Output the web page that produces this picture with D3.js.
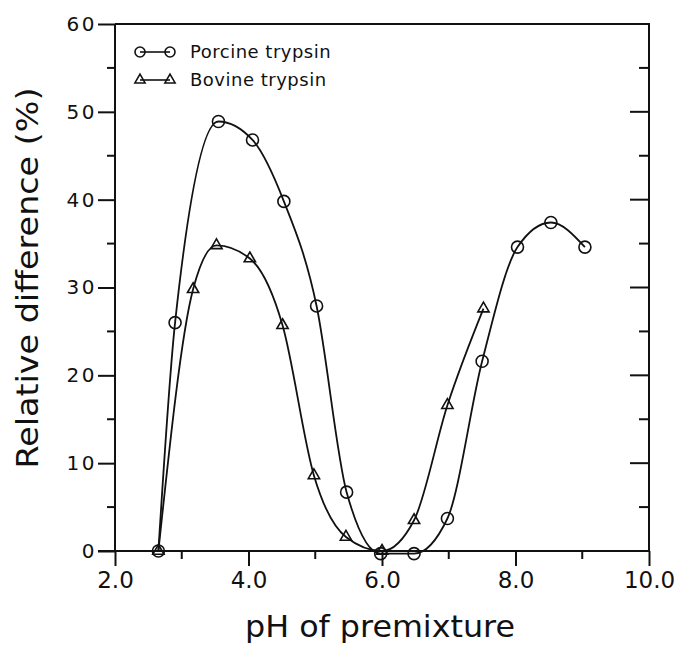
<!DOCTYPE html>
<html>
<head>
<meta charset="utf-8">
<script src="https://cdnjs.cloudflare.com/ajax/libs/d3/7.8.5/d3.min.js"></script>
<style>
  body { margin: 0; background: #fff; }
  svg { display: block; }
  text { font-family: "DejaVu Sans", sans-serif; fill: #111; }
</style>
</head>
<body>
<script>
// Porcine trypsin (circles)
var porcinePH  = [2.65, 2.9, 3.55, 4.06, 4.53, 5.02, 5.47, 5.98, 6.48, 6.98, 7.5, 8.03, 8.53, 9.04];
var porcineVal = [0.0, 26.0, 48.9, 46.8, 39.8, 27.9, 6.7, -0.3, -0.3, 3.7, 21.6, 34.6, 37.4, 34.6];

// Bovine trypsin (triangles)
var bovinePH  = [2.65, 3.17, 3.52, 4.02, 4.51, 4.98, 5.46, 6.0, 6.48, 6.98, 7.52];
var bovineVal = [0.0, 29.8, 34.8, 33.3, 25.7, 8.6, 1.6, 0.0, 3.5, 16.6, 27.6];

var xTicks = [2, 4, 6, 8, 10];
var xMinor = [3, 5, 7, 9];
var yTicks = [0, 10, 20, 30, 40, 50, 60];
var yMinor = [5, 15, 25, 35, 45, 55];

var seriesNames = ["Porcine trypsin", "Bovine trypsin"];

var W = 676, H = 648;
// plot box in pixels (note: "top" is reserved on window, so use a margin object)
var box = {left: 115, right: 649, top: 24, bottom: 551};

var svg = d3.select("body")
    .append("svg")
    .attr("width", W)
    .attr("height", H);

// Scales
var x = d3.scaleLinear().domain([2, 10]).range([box.left, box.right]);
var y = d3.scaleLinear().domain([0, 60]).range([box.bottom, box.top]);

var porcine = porcinePH.map(function(p, i) { return {x: p, y: porcineVal[i]}; });
var bovine = bovinePH.map(function(p, i) { return {x: p, y: bovineVal[i]}; });

// Frame: top and right lines
svg.append("path")
    .attr("d", "M" + box.left + "," + box.top + "H" + box.right + "V" + box.bottom)
    .attr("fill", "none")
    .attr("stroke", "#111")
    .attr("stroke-width", 2);

// Bottom axis (ticks pointing down, labels below)
var xAxis = d3.axisBottom(x)
    .tickValues(xTicks)
    .tickSize(15)
    .tickPadding(6)
    .tickFormat(d3.format(".1f"));

var gx = svg.append("g")
    .attr("class", "x-axis")
    .attr("transform", "translate(0," + box.bottom + ")")
    .call(xAxis);
gx.select(".domain").remove();
gx.append("line")
    .attr("x1", box.left - 17).attr("x2", box.right)
    .attr("stroke", "#111").attr("stroke-width", 2);
gx.selectAll(".tick line").attr("stroke", "#111").attr("stroke-width", 2);
gx.selectAll(".tick text")
    .attr("font-size", 23)
    .attr("fill", "#111")
    .style("font-family", "DejaVu Sans");

gx.selectAll(".minor")
    .data(xMinor)
    .enter().append("line")
      .attr("class", "minor")
      .attr("x1", function(d) { return x(d); })
      .attr("x2", function(d) { return x(d); })
      .attr("y2", 8)
      .attr("stroke", "#111").attr("stroke-width", 2);

// Left axis (ticks pointing out)
var yAxis = d3.axisLeft(y)
    .tickValues(yTicks)
    .tickSize(17)
    .tickPadding(1);

var gy = svg.append("g")
    .attr("class", "y-axis")
    .attr("transform", "translate(" + box.left + ",0)")
    .call(yAxis);
gy.select(".domain").remove();
gy.append("line")
    .attr("y1", box.top).attr("y2", box.bottom)
    .attr("stroke", "#111").attr("stroke-width", 2);
gy.selectAll(".tick line").attr("stroke", "#111").attr("stroke-width", 2);
gy.selectAll(".tick text")
    .attr("font-size", 20)
    .attr("letter-spacing", 2.5)
    .attr("fill", "#111")
    .style("font-family", "DejaVu Sans");

gy.selectAll(".minor")
    .data(yMinor)
    .enter().append("line")
      .attr("class", "minor")
      .attr("y1", function(d) { return y(d); })
      .attr("y2", function(d) { return y(d); })
      .attr("x2", -8)
      .attr("stroke", "#111").attr("stroke-width", 2);

// Right axis ticks point inward
var gr = svg.append("g")
    .attr("transform", "translate(" + box.right + ",0)");
gr.selectAll(".major")
    .data(yTicks.slice(1, -1))
    .enter().append("line")
      .attr("class", "major")
      .attr("y1", function(d) { return y(d); })
      .attr("y2", function(d) { return y(d); })
      .attr("x2", -19)
      .attr("stroke", "#111").attr("stroke-width", 2);
gr.selectAll(".minor")
    .data(yMinor)
    .enter().append("line")
      .attr("class", "minor")
      .attr("y1", function(d) { return y(d); })
      .attr("y2", function(d) { return y(d); })
      .attr("x2", -10)
      .attr("stroke", "#111").attr("stroke-width", 2);

// Axis titles
svg.append("text")
    .attr("x", 380)
    .attr("y", 637)
    .attr("text-anchor", "middle")
    .attr("font-size", 30)
    .attr("textLength", 270)
    .attr("lengthAdjust", "spacingAndGlyphs")
    .text("pH of premixture");

svg.append("text")
    .attr("transform", "translate(38,278) rotate(-90)")
    .attr("text-anchor", "middle")
    .attr("font-size", 30)
    .attr("textLength", 381)
    .attr("lengthAdjust", "spacingAndGlyphs")
    .text("Relative difference (%)");

// Curves
var line = d3.line()
    .x(function(d) { return x(d.x); })
    .y(function(d) { return y(d.y); })
    .curve(d3.curveMonotoneX);

[porcine, bovine].forEach(function(s) {
  svg.append("path")
      .datum(s)
      .attr("d", line)
      .attr("fill", "none")
      .attr("stroke", "#111")
      .attr("stroke-width", 1.8);
});

var tri = d3.symbol().type(d3.symbolTriangle).size(55);

// Markers
svg.selectAll(".dot")
    .data(porcine)
    .enter().append("circle")
      .attr("class", "dot")
      .attr("r", 6)
      .attr("cx", function(d) { return x(d.x); })
      .attr("cy", function(d) { return y(d.y); })
      .attr("fill", "none")
      .attr("stroke", "#111")
      .attr("stroke-width", 1.6);

svg.selectAll(".tri")
    .data(bovine)
    .enter().append("path")
      .attr("class", "tri")
      .attr("d", tri)
      .attr("transform", function(d) { return "translate(" + x(d.x) + "," + y(d.y) + ")"; })
      .attr("fill", "none")
      .attr("stroke", "#111")
      .attr("stroke-width", 1.6);

// Legend
var legend = svg.selectAll(".legend")
    .data(seriesNames)
    .enter().append("g")
      .attr("class", "legend")
      .attr("transform", function(d, i) { return "translate(140," + (52 + i * 28) + ")"; });

legend.append("line")
    .attr("x1", 0).attr("x2", 30)
    .attr("stroke", "#111").attr("stroke-width", 1.6);

legend.filter(function(d, i) { return i === 0; })
    .selectAll("circle")
    .data([0, 30])
    .enter().append("circle")
      .attr("cx", function(d) { return d; })
      .attr("r", 5)
      .attr("fill", "none")
      .attr("stroke", "#111")
      .attr("stroke-width", 1.6);

legend.filter(function(d, i) { return i === 1; })
    .selectAll("path.sym")
    .data([0, 30])
    .enter().append("path")
      .attr("class", "sym")
      .attr("d", d3.symbol().type(d3.symbolTriangle).size(45))
      .attr("transform", function(d) { return "translate(" + d + ",0)"; })
      .attr("fill", "none")
      .attr("stroke", "#111")
      .attr("stroke-width", 1.6);

legend.append("text")
    .attr("x", 50)
    .attr("y", 6)
    .attr("font-size", 18)
    .attr("letter-spacing", 0.5)
    .text(function(d) { return d; });
</script>
</body>
</html>
